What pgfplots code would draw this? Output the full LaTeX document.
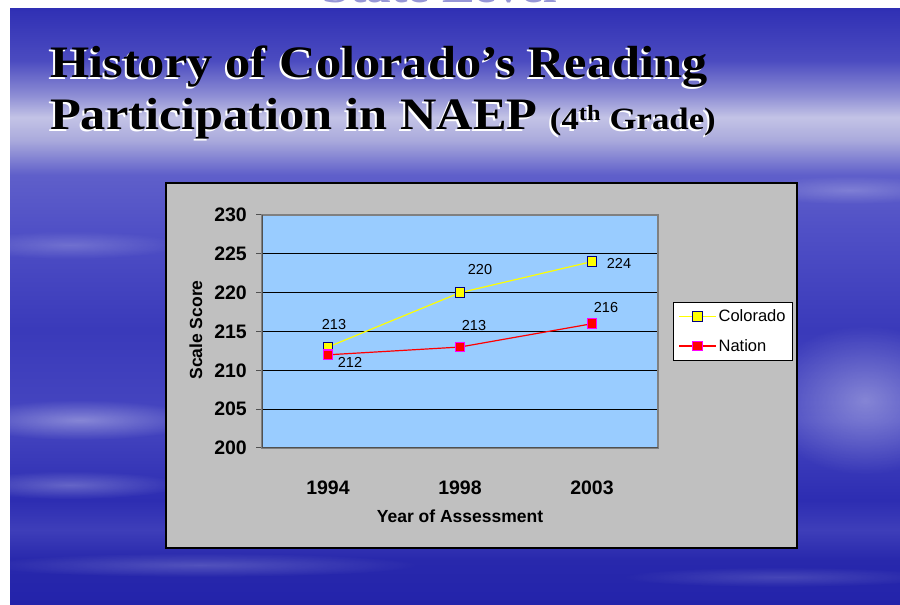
\documentclass[border=0pt]{standalone}
\usepackage{fontspec}
\setmainfont{Liberation Sans}
\newfontfamily\titlefont[FakeStretch=1.12]{Liberation Serif}
\usepackage{pgfplots}
\pgfplotsset{compat=1.18}
\usetikzlibrary{fadings}

\definecolor{plotbg}{RGB}{153,204,255}
\definecolor{chartgray}{RGB}{192,192,192}
\definecolor{navyc}{RGB}{0,0,128}
\definecolor{yel}{RGB}{255,255,0}
\definecolor{redc}{RGB}{255,0,0}
\definecolor{magc}{RGB}{255,0,255}
\definecolor{boxgray}{RGB}{128,128,128}
\definecolor{axdark}{RGB}{80,80,80}
\definecolor{faintblue}{RGB}{150,150,215}

\pgfdeclareverticalshading{bgshade}{100bp}{%
rgb(0bp)=(0.137,0.137,0.667);
rgb(25bp)=(0.137,0.137,0.667);
rgb(28.8bp)=(0.157,0.157,0.675);
rgb(31.3bp)=(0.243,0.243,0.725);
rgb(33.8bp)=(0.176,0.176,0.698);
rgb(40.5bp)=(0.275,0.275,0.753);
rgb(48.1bp)=(0.227,0.227,0.729);
rgb(56.5bp)=(0.314,0.314,0.776);
rgb(61.1bp)=(0.373,0.373,0.792);
rgb(64.0bp)=(0.667,0.667,0.863);
rgb(65.9bp)=(0.765,0.765,0.902);
rgb(67.8bp)=(0.549,0.549,0.831);
rgb(70.7bp)=(0.294,0.294,0.753);
rgb(75bp)=(0.188,0.188,0.706);
rgb(100bp)=(0.188,0.188,0.706)}

\tikzfading[name=fuzzy, inner color=transparent!0, outer color=transparent!100]

\pgfplotstableread{
x y dx dy
0 213 6 23
1 220 20 23
2 224 27 -2
}\colorado
\pgfplotstableread{
x y dx dy
0 212 22 -8
1 213 14 22
2 216 14 16
}\nation

\begin{document}
\begin{tikzpicture}[x=1pt,y=1pt]
\useasboundingbox (0,0) rectangle (900,605);
\clip (0,0) rectangle (900,605);
\fill[white] (0,0) rectangle (900,605);
% cut-off text at the very top (mostly hidden, as in the slide)
\node[anchor=base, inner sep=0, text=faintblue] at (440,602.5)
  {\titlefont\bfseries\fontsize{44}{48}\selectfont State Level};
\shade[shading=bgshade] (10,0) rectangle (900,596);
% soft cloud streaks
\fill[white, opacity=0.35, path fading=fuzzy] (80,185) ellipse [x radius=120, y radius=20];
\fill[white, opacity=0.25, path fading=fuzzy] (70,120) ellipse [x radius=110, y radius=14];
\fill[white, opacity=0.35, path fading=fuzzy] (865,205) ellipse [x radius=100, y radius=75];
\fill[white, opacity=0.22, path fading=fuzzy] (850,415) ellipse [x radius=100, y radius=14];
\fill[white, opacity=0.2, path fading=fuzzy] (200,40) ellipse [x radius=220, y radius=12];
\fill[white, opacity=0.15, path fading=fuzzy] (780,28) ellipse [x radius=160, y radius=10];
\fill[white, opacity=0.2, path fading=fuzzy] (70,360) ellipse [x radius=110, y radius=14];

% title with shadow
\foreach \dx/\dy/\col in {-2/-2.5/white, 0/0/black} {
  \node[anchor=base west, inner sep=0, text=\col] at (50+\dx,527.5+\dy)
    {\titlefont\bfseries\fontsize{45}{48}\selectfont History of Colorado’s Reading};
  \node[anchor=base west, inner sep=0, text=\col] at (50+\dx,475.5+\dy)
    {\titlefont\bfseries\fontsize{45}{48}\selectfont Participation in NAEP
     {\fontsize{31}{33}\selectfont (4\textsuperscript{th} Grade)}};
}

% chart area
\fill[chartgray] (166,57) rectangle (797,422);
\draw[black, line width=1.5pt] (166,57) rectangle (797,422);

\begin{axis}[
  at={(262pt,157pt)}, anchor=south west, scale only axis,
  width=396pt, height=233pt,
  xmin=-0.5, xmax=2.5, ymin=200, ymax=230,
  axis background/.style={fill=plotbg},
  axis line style={draw=boxgray, line width=1.3pt},
  xtick={0,1,2}, xticklabels={1994,1998,2003},
  major x tick style={draw=none},
  extra x ticks={-0.5,0.5,1.5,2.5}, extra x tick labels={},
  extra x tick style={grid=none, major tick length=6pt, tick style={draw=axdark, line width=1pt}},
  ytick={200,205,...,230},
  ymajorgrids, grid style={black, line width=0.9pt},
  tick align=outside, major tick length=6pt,
  tick pos=left,
  y tick style={draw=axdark, line width=1pt},
  /pgf/number format/assume math mode=true,
  /pgf/number format/1000 sep={},
  ticklabel style={font=\bfseries\fontsize{19.5}{21}\selectfont},
  yticklabel style={anchor=east, inner sep=0pt, xshift=-9pt},
  xticklabel style={anchor=base, inner sep=0pt, yshift=-41pt},
  xlabel={Year of Assessment},
  ylabel={Scale Score},
  label style={font=\bfseries\fontsize{17.5}{19}\selectfont},
  xlabel style={at={(axis description cs:0.5,0)}, anchor=center, yshift=-68pt},
  ylabel style={at={(axis description cs:-0.1667,0.5064)}, anchor=center, rotate=0},
  legend style={at={(1.0379,0.6266)}, anchor=north west, draw=black, line width=0.8pt, fill=white,
    font=\fontsize{16.5}{18}\selectfont, inner xsep=5pt, inner ysep=5.5pt, row sep=12pt,
    cells={anchor=west}},
  legend image code/.code={%
    \draw[mark repeat=2, mark phase=2] plot coordinates {(0pt,0pt) (18.5pt,0pt) (37pt,0pt)};},
  nodes near coords,
  point meta=y,
  visualization depends on={\thisrow{dx} \as \dxv},
  visualization depends on={\thisrow{dy} \as \dyv},
  every node near coord/.style={anchor=center, inner sep=0pt, text=black,
    font=\fontsize{14.5}{16}\selectfont, xshift=\dxv pt, yshift=\dyv pt},
]
\draw[axdark, line width=1.3pt] (rel axis cs:0,1) -- (rel axis cs:0,0) -- (rel axis cs:1,0);
\addplot[draw=yel, line width=1.2pt, mark=square*, mark size=4.8pt,
  mark options={fill=yel, draw=navyc, line width=1.1pt}] table[x=x, y=y] {\colorado};
\addlegendentry{Colorado}
\addplot[draw=redc, line width=1.2pt, mark=square*, mark size=4.8pt,
  mark options={fill=redc, draw=magc, line width=1.1pt}] table[x=x, y=y] {\nation};
\addlegendentry{Nation}
\end{axis}
\end{tikzpicture}
\end{document}
